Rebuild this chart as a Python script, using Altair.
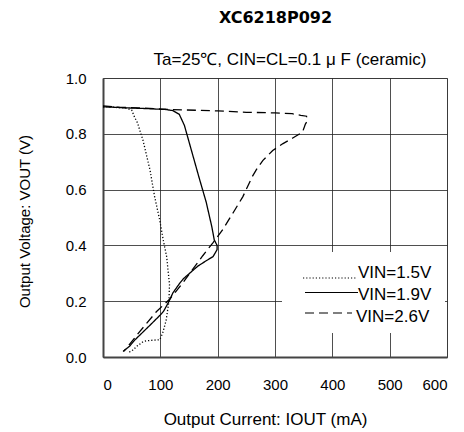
import altair as alt
import pandas as pd

title_text = "XC6218P092"
subtitle_text = "Ta=25\u2103, CIN=CL=0.1 \u03bc F (ceramic)"
x_title = "Output Current: IOUT (mA)"
y_title = "Output Voltage: VOUT (V)"
series = ["VIN=1.5V", "VIN=1.9V", "VIN=2.6V"]
dashes = [[1.2, 2], [1, 0], [9, 5]]

# VIN=1.5V (dotted)
x15 = [0, 20, 40, 50, 55, 60, 70, 82, 90, 99, 105, 111, 116, 115, 110, 104, 99, 86, 76, 70, 60, 52, 44]
y15 = [0.897, 0.895, 0.892, 0.885, 0.86, 0.84, 0.775, 0.67, 0.575, 0.49, 0.42, 0.36, 0.26, 0.2, 0.13, 0.085, 0.062, 0.06, 0.058, 0.055, 0.04, 0.025, 0.015]

# VIN=1.9V (solid)
x19 = [0, 40, 80, 110, 122, 133, 142, 155, 168, 180, 190, 194, 199, 199, 192, 180, 165, 151, 140, 134, 122, 114, 106, 102, 85, 70, 55, 47, 35]
y19 = [0.897, 0.893, 0.89, 0.887, 0.883, 0.87, 0.83, 0.735, 0.64, 0.555, 0.465, 0.42, 0.4, 0.385, 0.36, 0.345, 0.325, 0.3, 0.28, 0.265, 0.23, 0.195, 0.165, 0.155, 0.12, 0.09, 0.06, 0.04, 0.02]

# VIN=2.6V (dashed)
x26 = [0, 30, 60, 120, 200, 250, 300, 330, 345, 355, 356, 353, 348, 331, 314, 296, 279, 267, 260, 244, 227, 209, 192, 174, 157, 140, 117, 93, 64, 41, 36]
y26 = [0.9, 0.895, 0.893, 0.887, 0.882, 0.877, 0.875, 0.872, 0.866, 0.863, 0.845, 0.835, 0.806, 0.785, 0.765, 0.74, 0.705, 0.67, 0.645, 0.575, 0.517, 0.457, 0.41, 0.363, 0.316, 0.268, 0.209, 0.162, 0.091, 0.032, 0.02]

rows = []
for name, xs, ys in zip(series, [x15, x19, x26], [y15, y19, y26]):
    for i, (a, b) in enumerate(zip(xs, ys)):
        rows.append({"series": name, "i": i, "current": a, "voltage": b})
df = pd.DataFrame(rows)

FONT = "Liberation Sans"

lines = alt.Chart(df).mark_line(color="black", strokeWidth=1.3).encode(
    x=alt.X("current:Q", scale=alt.Scale(domain=[0, 600], nice=False),
            axis=alt.Axis(values=[0, 100, 200, 300, 400, 500, 600], title=x_title,
                          titleX=162, titleY=67, titleBaseline="alphabetic", titleAnchor="middle",
                          titleFontSize=17)),
    y=alt.Y("voltage:Q", scale=alt.Scale(domain=[0, 1], nice=False),
            axis=alt.Axis(values=[0, 0.2, 0.4, 0.6, 0.8, 1.0], format=".1f", title=y_title,
                          titleX=-79, titleY=143, titleAlign="center", titleBaseline="middle", titleAngle=-90)),
    order="i:Q",
    strokeDash=alt.StrokeDash("series:N", scale=alt.Scale(domain=series, range=dashes), legend=None),
)

box = alt.Chart(pd.DataFrame({"k": [0]})).mark_rect(color="white").encode(
    x=alt.value(179), x2=alt.value(342), y=alt.value(174), y2=alt.value(255)
)

# legend (drawn by hand, inside the plot, lower right)
leg_line_y = [200, 214.5, 235]
leg_text_y = [195, 217, 239]
leg_x0 = [200, 202, 202]
leg_x1 = [254, 255, 249]
leg_tx = [255, 255, 253]
legend_layers = []
for k, name in enumerate(series):
    ld = pd.DataFrame({"series": [name]})
    legend_layers.append(
        alt.Chart(ld).mark_rule(color="black", strokeWidth=1.2, strokeDash=dashes[k]).encode(
            x=alt.value(leg_x0[k]), x2=alt.value(leg_x1[k]), y=alt.value(leg_line_y[k])
        )
    )
    legend_layers.append(
        alt.Chart(ld).mark_text(font=FONT, fontSize=17, color="black", align="left", baseline="middle").encode(
            text="series:N", x=alt.value(leg_tx[k]), y=alt.value(leg_text_y[k])
        )
    )

title_mark = alt.Chart(pd.DataFrame({"t": [title_text]})).mark_text(
    font="DejaVu Sans", fontWeight="bold", fontSize=16, color="black", baseline="alphabetic"
).encode(text="t:N", x=alt.value(172.5), y=alt.value(-55))

subtitle_mark = alt.Chart(pd.DataFrame({"t": [subtitle_text]})).mark_text(
    font=FONT, fontSize=17, color="black", baseline="middle"
).encode(text="t:N", x=alt.value(187), y=alt.value(-18))

chart = alt.layer(box, lines, *legend_layers, title_mark, subtitle_mark).properties(
    width=344, height=279,
    autosize=alt.AutoSizeParams(type="none"),
    padding={"left": 95, "top": 70, "right": 8, "bottom": 75},
).configure_view(
    stroke="#999", strokeWidth=1
).configure_axis(
    grid=True, gridColor="#222", gridWidth=0.8, gridOpacity=1,
    domainColor="#444", domainWidth=2, ticks=False,
    labelFont=FONT, labelFontSize=15, labelColor="black",
    titleFont=FONT, titleFontSize=15, titleColor="black", titleFontWeight="normal",
).configure_axisX(labelPadding=20).configure_axisY(labelPadding=17)

chart.save("out.html", embed_options={"renderer": "svg", "actions": False})
